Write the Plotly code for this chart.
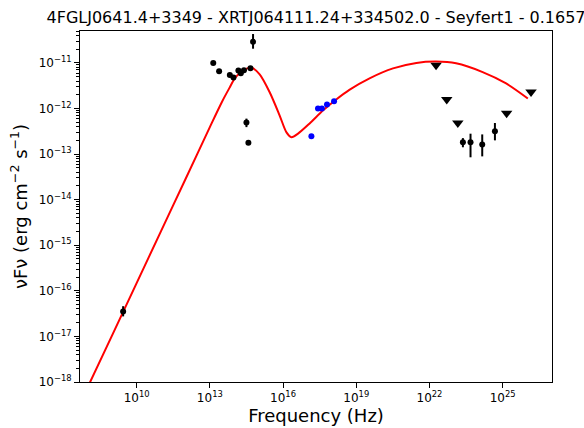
import plotly.graph_objects as go

# ---- data ----
# model curve (red)
curve_freq = [1.0e8, 1.0e9, 1.0e10, 1.0e11, 1.0e12, 1.0e13, 3.16e13, 6.3e13, 1.12e14,
              2.3e14, 5.2e14, 1.1e15, 2.8e15, 7.2e15, 1.38e16, 2.19e16, 4.1e16, 1.23e17,
              4.4e17, 1.51e18, 5.4e18, 3.5e19, 3.2e20, 2.9e21, 1.86e22, 1.23e23,
              1.51e24, 1.38e25, 1.07e26]
curve_flux = [7.8e-19, 1.07e-17, 1.48e-16, 2.04e-15, 2.8e-14, 3.9e-13, 1.41e-12, 2.8e-12,
              4.8e-12, 6.9e-12, 7.8e-12, 5.6e-12, 2.3e-12, 7.1e-13, 3.0e-13, 2.35e-13,
              2.8e-13, 4.7e-13, 9.1e-13, 1.58e-12, 2.6e-12, 4.6e-12, 7.6e-12, 1.0e-11,
              1.07e-11, 9.8e-12, 6.3e-12, 3.55e-12, 1.66e-12]

# black points with error bars
pts_freq = [2.8e9, 1.38e13, 2.4e13, 6.6e13, 9.3e13, 1.48e14, 1.86e14, 2.5e14, 4.6e14,
            5.9e14, 3.16e14, 3.8e14, 2.34e23, 4.8e23, 1.45e24, 4.8e24]
pts_flux = [3.5e-17, 1.0e-11, 6.6e-12, 5.4e-12, 4.8e-12, 6.8e-12, 5.9e-12, 6.9e-12, 7.6e-12,
            2.9e-11, 4.9e-13, 1.78e-13, 1.82e-13, 1.82e-13, 1.62e-13, 3.16e-13]
pts_err_up = [1.1e-17, 0, 0, 0, 0, 0, 0, 0, 0,
              1.4e-11, 1.1e-13, 0, 0.42e-13, 0.98e-13, 1.08e-13, 1.64e-13]
pts_err_dn = [0.75e-17, 0, 0, 0, 0, 0, 0, 0, 0,
              0.85e-11, 1.0e-13, 0, 0.41e-13, 0.97e-13, 0.73e-13, 1.16e-13]

# blue points (X-ray)
xray_freq = [1.45e17, 2.7e17, 3.9e17, 6.3e17, 1.23e18]
xray_flux = [2.45e-13, 1.0e-12, 1.0e-12, 1.23e-12, 1.45e-12]

# upper limits (triangles)
ul_freq = [1.86e22, 5.1e22, 1.45e23, 1.45e25, 1.45e26]
ul_flux = [8.9e-12, 1.58e-12, 4.8e-13, 7.9e-13, 2.3e-12]

# axis ticks
x_tickvals = [1e10, 1e13, 1e16, 1e19, 1e22, 1e25]
x_ticktext = ["10<sup>10</sup>", "10<sup>13</sup>", "10<sup>16</sup>",
              "10<sup>19</sup>", "10<sup>22</sup>", "10<sup>25</sup>"]
y_tickvals = [1e-11, 1e-12, 1e-13, 1e-14, 1e-15, 1e-16, 1e-17, 1e-18]
y_ticktext = ["10<sup>\u221211</sup>", "10<sup>\u221212</sup>", "10<sup>\u221213</sup>",
              "10<sup>\u221214</sup>", "10<sup>\u221215</sup>", "10<sup>\u221216</sup>",
              "10<sup>\u221217</sup>", "10<sup>\u221218</sup>"]

title_text = "4FGLJ0641.4+3349 - XRTJ064111.24+334502.0 - Seyfert1 - 0.1657"

# minor ticks for y (2..9 per decade)
y_minor = []
for e in range(-18, -10):
    for m in range(2, 10):
        y_minor.append(m * 10.0 ** e)

FONT = "DejaVu Sans"

fig = go.Figure()
fig.add_trace(go.Scatter(x=curve_freq, y=curve_flux, mode="lines",
                         line=dict(color="#ff0000", width=2, shape="spline", smoothing=0.8),
                         showlegend=False, hoverinfo="skip"))
fig.add_trace(go.Scatter(x=xray_freq, y=xray_flux, mode="markers",
                         marker=dict(color="#0000ff", size=6),
                         showlegend=False))
fig.add_trace(go.Scatter(x=pts_freq, y=pts_flux, mode="markers",
                         marker=dict(color="black", size=6),
                         error_y=dict(type="data", symmetric=False, array=pts_err_up,
                                      arrayminus=pts_err_dn, color="black",
                                      thickness=2, width=0),
                         showlegend=False))
fig.add_trace(go.Scatter(x=ul_freq, y=ul_flux, mode="markers",
                         marker=dict(color="black", size=10, symbol="triangle-down"),
                         showlegend=False))

axis_common = dict(showline=True, linecolor="black", linewidth=1, mirror=True,
                   ticks="outside", ticklen=5, tickwidth=1, tickcolor="black",
                   showgrid=False, zeroline=False, tickfont=dict(family=FONT, size=12, color="black"))

fig.update_xaxes(type="log", range=[7.68, 27.02], tickmode="array",
                 tickvals=x_tickvals, ticktext=x_ticktext,
                 title=dict(text="Frequency (Hz)", font=dict(family=FONT, size=18, color="black"),
                            standoff=4),
                 **axis_common)
fig.update_yaxes(type="log", range=[-18, -10.30], tickmode="array",
                 tickvals=y_tickvals, ticktext=y_ticktext,
                 minor=dict(ticks="outside", ticklen=3, tickwidth=1, tickcolor="black",
                            tickmode="array", tickvals=y_minor),
                 title=dict(text="\u03bdF\u03bd (erg cm<sup>\u22122</sup> s<sup>\u22121</sup>)",
                            font=dict(family=FONT, size=18, color="black"), standoff=6),
                 **axis_common)

fig.update_layout(
    width=584, height=428,
    margin=dict(l=80, r=32, t=31, b=46, autoexpand=False),
    paper_bgcolor="white", plot_bgcolor="white",
    font=dict(family=FONT, color="black"),
    title=dict(text=title_text, x=0.5, xref="paper", y=1 - 17 / 428, yref="container",
               xanchor="center", yanchor="middle",
               font=dict(family=FONT, size=16, color="black")),
)

fig.write_html("out.html")
